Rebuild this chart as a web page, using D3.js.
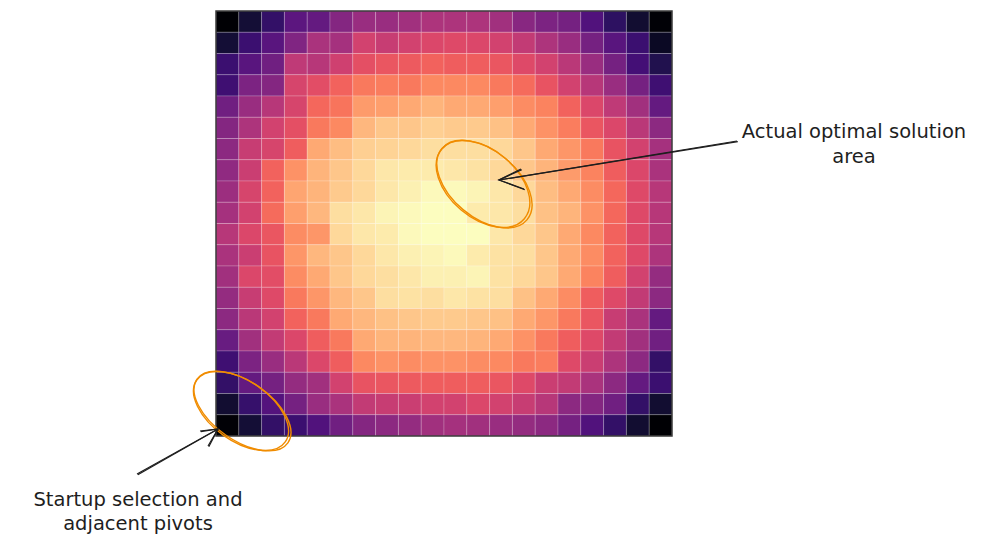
<!DOCTYPE html>
<html>
<head>
<meta charset="utf-8">
<script src="https://cdn.jsdelivr.net/npm/d3@7"></script>
<style>
  body { margin: 0; background: #fff; }
  svg { display: block; }
</style>
</head>
<body>
<div class="chart-container"></div>
<script>
// grid indices (rows top -> bottom, columns left -> right)
const rowIds = [0,1,2,3,4,5,6,7,8,9,10,11,12,13,14,15,16,17,18,19];
const colIds = [0,1,2,3,4,5,6,7,8,9,10,11,12,13,14,15,16,17,18,19];

// normalised score per cell
const scores = [
  [0.00,0.10,0.18,0.28,0.30,0.38,0.43,0.43,0.45,0.48,0.48,0.48,0.45,0.39,0.36,0.34,0.25,0.17,0.09,0.01],
  [0.10,0.20,0.27,0.37,0.47,0.46,0.57,0.54,0.57,0.59,0.60,0.59,0.57,0.53,0.48,0.43,0.34,0.27,0.20,0.07],
  [0.20,0.27,0.33,0.52,0.50,0.56,0.62,0.64,0.65,0.67,0.66,0.66,0.64,0.60,0.57,0.51,0.43,0.34,0.22,0.14],
  [0.21,0.36,0.38,0.58,0.61,0.67,0.72,0.73,0.72,0.75,0.75,0.75,0.72,0.69,0.63,0.57,0.50,0.43,0.34,0.21],
  [0.33,0.43,0.50,0.58,0.68,0.71,0.79,0.80,0.82,0.84,0.82,0.82,0.80,0.76,0.74,0.67,0.59,0.52,0.45,0.30],
  [0.38,0.48,0.57,0.62,0.72,0.75,0.85,0.88,0.88,0.90,0.89,0.89,0.87,0.82,0.77,0.73,0.64,0.59,0.51,0.40],
  [0.40,0.54,0.58,0.66,0.82,0.86,0.90,0.91,0.92,0.93,0.93,0.93,0.92,0.88,0.82,0.78,0.72,0.63,0.57,0.46],
  [0.41,0.55,0.67,0.77,0.84,0.88,0.92,0.95,0.96,0.96,0.95,0.94,0.92,0.88,0.84,0.79,0.74,0.66,0.59,0.47],
  [0.44,0.58,0.67,0.81,0.84,0.89,0.92,0.95,0.97,0.99,0.99,0.98,0.95,0.92,0.86,0.82,0.76,0.68,0.60,0.50],
  [0.46,0.57,0.69,0.80,0.85,0.93,0.95,0.98,0.99,1.00,1.00,0.96,0.95,0.93,0.87,0.84,0.77,0.68,0.60,0.50],
  [0.50,0.59,0.64,0.76,0.78,0.92,0.95,0.96,0.99,1.00,1.00,1.00,0.95,0.92,0.88,0.82,0.75,0.67,0.60,0.50],
  [0.47,0.55,0.63,0.78,0.85,0.88,0.92,0.95,0.97,0.98,0.99,0.96,0.94,0.93,0.88,0.82,0.76,0.67,0.60,0.48],
  [0.45,0.59,0.61,0.76,0.82,0.88,0.92,0.93,0.95,0.97,0.97,0.98,0.94,0.92,0.88,0.82,0.74,0.66,0.57,0.42],
  [0.42,0.54,0.60,0.72,0.78,0.85,0.88,0.93,0.94,0.93,0.95,0.94,0.93,0.87,0.82,0.76,0.66,0.60,0.53,0.40],
  [0.40,0.51,0.57,0.67,0.72,0.82,0.85,0.87,0.88,0.89,0.89,0.88,0.87,0.82,0.78,0.72,0.64,0.54,0.47,0.30],
  [0.31,0.45,0.53,0.59,0.66,0.72,0.82,0.84,0.84,0.85,0.85,0.84,0.82,0.77,0.72,0.66,0.60,0.53,0.45,0.33],
  [0.21,0.36,0.43,0.51,0.59,0.66,0.75,0.77,0.76,0.77,0.77,0.76,0.75,0.72,0.73,0.60,0.55,0.48,0.40,0.18],
  [0.18,0.30,0.34,0.42,0.45,0.57,0.63,0.64,0.65,0.66,0.66,0.66,0.64,0.60,0.55,0.53,0.47,0.40,0.30,0.20],
  [0.09,0.19,0.26,0.34,0.43,0.47,0.53,0.54,0.55,0.57,0.57,0.59,0.57,0.54,0.50,0.40,0.38,0.33,0.18,0.09],
  [0.01,0.10,0.18,0.20,0.25,0.33,0.38,0.40,0.42,0.45,0.46,0.45,0.43,0.42,0.40,0.34,0.25,0.18,0.09,0.00]
];

// annotation texts
const optimumLabel = ["Actual optimal solution", "area"];
const startLabel = ["Startup selection and", "adjacent pivots"];

const w = 991;
const h = 547;
const plot = { left: 216, top: 11, right: 672, bottom: 436 };

const svg = d3.select(".chart-container")
    .append("svg")
    .attr("width", w)
    .attr("height", h);

const xScale = d3.scaleBand()
    .domain(colIds)
    .range([plot.left, plot.right]);

const yScale = d3.scaleBand()
    .domain(rowIds)
    .range([plot.top, plot.bottom]);

const color = d3.scaleSequential(d3.interpolateMagma)
    .domain([0, 1]);

const cells = [];
scores.forEach((row, r) => row.forEach((v, c) => cells.push({ r: rowIds[r], c: colIds[c], v })));

svg.append("g")
    .selectAll("rect")
    .data(cells)
    .enter()
    .append("rect")
    .attr("x", d => xScale(d.c))
    .attr("y", d => yScale(d.r))
    .attr("width", xScale.bandwidth())
    .attr("height", yScale.bandwidth())
    .attr("fill", d => color(d.v))
    .attr("stroke", "rgba(255,255,255,0.2)")
    .attr("stroke-width", 1);

// frame
svg.append("rect")
    .attr("x", plot.left)
    .attr("y", plot.top)
    .attr("width", plot.right - plot.left)
    .attr("height", plot.bottom - plot.top)
    .attr("fill", "none")
    .attr("stroke", "#3a3a3a")
    .attr("stroke-width", 1.5);

// hand-drawn looking ellipse: two slightly different passes
const sketchEllipse = (cx, cy, rx, ry, angle) => {
    const g = svg.append("g")
        .attr("transform", `translate(${cx},${cy}) rotate(${angle})`);
    [[0, 0, 0], [1.2, -0.8, 1.5]].forEach(([dx, dy, dr]) => {
        g.append("ellipse")
            .attr("cx", dx)
            .attr("cy", dy)
            .attr("rx", rx + dr)
            .attr("ry", ry - dr * 0.5)
            .attr("fill", "none")
            .attr("stroke", "#f08c00")
            .attr("stroke-width", 1.4);
    });
};

const sketchArrow = (from, to, headA, headB) => {
    const line = d3.line();
    [[0, 0], [0.8, 0.7]].forEach(([dx, dy]) => {
        svg.append("path")
            .attr("d", line([[from[0] + dx, from[1] + dy], [to[0], to[1]]]))
            .attr("fill", "none")
            .attr("stroke", "#1e1e1e")
            .attr("stroke-width", 1.2);
        svg.append("path")
            .attr("d", line([[headA[0] + dx, headA[1] + dy], to, [headB[0] + dx, headB[1] + dy]]))
            .attr("fill", "none")
            .attr("stroke", "#1e1e1e")
            .attr("stroke-width", 1.2);
    });
};

sketchEllipse(483, 184, 54, 34, 40);
sketchEllipse(241, 411, 54, 30, 35);

sketchArrow([737, 141], [499, 180], [521, 169], [524, 189]);
sketchArrow([137, 474], [218, 429], [200, 431], [208, 446]);

const addLines = (lines, cx, y0, lh) => {
    svg.append("g")
        .selectAll("text")
        .data(lines)
        .enter()
        .append("text")
        .attr("x", cx)
        .attr("y", (d, i) => y0 + i * lh)
        .attr("text-anchor", "middle")
        .style("font-family", "'DejaVu Sans', sans-serif")
        .style("font-size", "19.5px")
        .attr("fill", "#1e1e1e")
        .text(d => d);
};

addLines(optimumLabel, 854, 138, 25);
addLines(startLabel, 138, 506, 24);
</script>
</body>
</html>
